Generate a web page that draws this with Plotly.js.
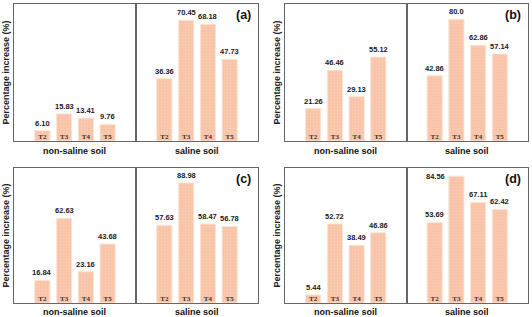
<!DOCTYPE html>
<html>
<head>
<meta charset="utf-8">
<script src="https://cdn.plot.ly/plotly-3.0.1.min.js"></script>
<style>html,body{margin:0;padding:0;background:#fff;}#chart{width:532px;height:317px;}</style>
</head>
<body>
<div id="chart"></div>
<script>
// ---- data ----
const treatments = ['T2', 'T3', 'T4', 'T5'];
const groupNames = ['non-saline soil', 'saline soil'];
const panelLabels = ['(a)', '(b)', '(c)', '(d)'];
const yTitle = 'Percentage increase (%)';

const aNonSaline = [6.10, 15.83, 13.41, 9.76];
const aSaline    = [36.36, 70.45, 68.18, 47.73];
const bNonSaline = [21.26, 46.46, 29.13, 55.12];
const bSaline    = [42.86, 80.0, 62.86, 57.14];
const cNonSaline = [16.84, 62.63, 23.16, 43.68];
const cSaline    = [57.63, 88.98, 58.47, 56.78];
const dNonSaline = [5.44, 52.72, 38.49, 46.86];
const dSaline    = [53.69, 84.56, 67.11, 62.42];
const bSalineText = ['42.86', '80.0', '62.86', '57.14'];

const yMax = [80, 90, 100, 90];

// ---- layout geometry ----
const panels = [
  [aNonSaline, aSaline],
  [bNonSaline, bSaline],
  [cNonSaline, cSaline],
  [dNonSaline, dSaline]
];
const colDomains = [
  [[0.0263, 0.2556], [0.2556, 0.485]],
  [[0.5357, 0.7641], [0.7641, 0.9925]]
];
const rowDomains = [[0.5552, 0.9874], [0.0442, 0.47]];

const barColor = '#f8c3a6';
const lineColor = '#666666';
const sans = 'Arial, "Liberation Sans", sans-serif';
const valueFont = {family: sans, size: 7.5, color: '#1a1a1a', weight: 'bold'};

const traces = [];
const layout = {
  width: 532, height: 317,
  margin: {l: 0, r: 0, t: 0, b: 0},
  paper_bgcolor: '#ffffff', plot_bgcolor: '#ffffff',
  showlegend: false,
  bargap: 0.3,
  annotations: []
};

panels.forEach((pair, p) => {
  const row = Math.floor(p / 2), col = p % 2;
  pair.forEach((vals, g) => {
    const idx = p * 2 + g + 1;
    const xa = idx === 1 ? 'x' : 'x' + idx;
    const ya = idx === 1 ? 'y' : 'y' + idx;
    const xKey = idx === 1 ? 'xaxis' : 'xaxis' + idx;
    const yKey = idx === 1 ? 'yaxis' : 'yaxis' + idx;
    const labels = (p === 1 && g === 1) ? bSalineText : vals.map(v => v.toFixed(2));

    traces.push({
      type: 'bar', x: treatments, y: vals, xaxis: xa, yaxis: ya,
      marker: {
        color: barColor,
        line: {color: '#fde6d8', width: 1},
        pattern: {shape: '.', bgcolor: barColor, fgcolor: '#facdb5', size: 3, solidity: 0.3}
      },
      hoverinfo: 'skip'
    });
    // value labels (the tallest bar of panel (d), saline soil, has its label at its left side)
    vals.forEach((v, i) => {
      const side = p === 3 && g === 1 && i === 1;
      layout.annotations.push({
        xref: xa, yref: ya, x: treatments[i], y: v,
        xanchor: side ? 'right' : 'center', yanchor: side ? 'middle' : 'bottom',
        xshift: side ? -9 : 0, yshift: side ? 0 : 1,
        showarrow: false, text: labels[i], font: valueFont
      });
    });
    traces.push({
      type: 'scatter', mode: 'text', x: treatments, y: treatments.map(() => 0),
      xaxis: xa, yaxis: ya, text: treatments, textposition: 'top center', cliponaxis: false,
      textfont: {family: '"Liberation Serif", "Times New Roman", serif', size: 7, color: '#333', weight: 'bold'},
      hoverinfo: 'skip'
    });

    layout[xKey] = {
      domain: colDomains[col][g], anchor: ya, type: 'category',
      range: [-1.3, 4.3], showticklabels: false, ticks: '', showgrid: false, zeroline: false,
      showline: true, mirror: true, linecolor: lineColor, linewidth: 1, fixedrange: true
    };
    layout[yKey] = {
      domain: rowDomains[row], anchor: xa, range: [0, yMax[p]],
      showticklabels: false, ticks: '', showgrid: false, zeroline: false,
      showline: true, mirror: true, linecolor: lineColor, linewidth: 1, fixedrange: true
    };

    // group label under each half
    layout.annotations.push({
      xref: xa + ' domain', yref: 'paper', x: 0.5,
      y: row === 0 ? 1 - 151 / 317 : 1 - 312 / 317,
      xanchor: 'center', yanchor: 'middle', showarrow: false,
      text: groupNames[g], font: {family: sans, size: 9, color: '#111', weight: 'bold'}
    });

    if (g === 1) {
      layout.annotations.push({
        xref: xa + ' domain', yref: ya + ' domain', x: 1 - 15 / 122, y: 1 - 11 / 137,
        xanchor: 'center', yanchor: 'middle', showarrow: false,
        text: panelLabels[p], font: {family: sans, size: 12.5, color: '#111', weight: 'bold'}
      });
    }
  });
  // y-axis title for each panel
  const d = rowDomains[row];
  layout.annotations.push({
    xref: 'paper', yref: 'paper',
    x: (col === 0 ? 6 : 277) / 532, y: (d[0] + d[1]) / 2,
    xanchor: 'center', yanchor: 'middle', textangle: -90, showarrow: false,
    text: yTitle, font: {family: sans, size: 9, color: '#222', weight: 'bold'}
  });
});

Plotly.newPlot('chart', traces, layout, {displayModeBar: false, staticPlot: true});
</script>
</body>
</html>
